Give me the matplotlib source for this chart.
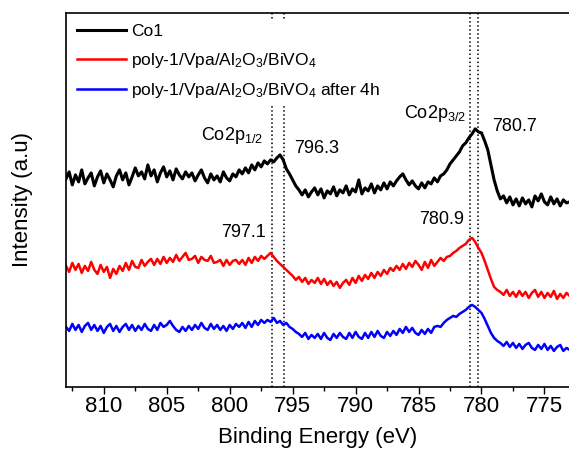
import numpy as np
import matplotlib
matplotlib.use('Agg')
import matplotlib.pyplot as plt
from matplotlib.ticker import MultipleLocator

plt.rcParams['font.family'] = ['Liberation Sans', 'DejaVu Sans']
plt.rcParams['mathtext.fontset'] = 'custom'
plt.rcParams['mathtext.rm'] = 'Liberation Sans'
plt.rcParams['mathtext.it'] = 'Liberation Sans:italic'

# binding energy grid (eV), 0.25 eV step from 813 down to 773
energy = np.arange(813.0, 772.99, -0.25)

co1 = [
    208, 215, 202, 212, 205, 217, 203, 209,
    214, 201, 210, 216, 204, 213, 207, 200,
    211, 217, 207, 214, 202, 210, 219, 211,
    215, 208, 222, 211, 217, 205, 214, 220,
    210, 216, 207, 218, 212, 208, 215, 210,
    214, 206, 212, 217, 209, 204, 213, 207,
    211, 205, 215, 209, 206, 213, 210, 217,
    213, 219, 214, 222, 217, 224, 220, 226,
    223, 227, 225, 229, 232, 227, 218, 213,
    207, 201, 197, 192, 197, 190, 195, 199,
    192, 198, 189, 196, 193, 200, 191, 197,
    194, 201, 192, 198, 195, 207, 193, 199,
    196, 203, 194, 201, 197, 204, 198, 205,
    201, 206, 210, 213, 207, 202, 206, 201,
    198, 204, 199, 205, 203, 209, 205, 211,
    213, 217, 223, 227, 231, 235, 241, 244,
    249, 253, 258, 255, 254, 246, 237, 222,
    207, 196, 188, 191, 184, 190, 182, 188,
    181, 189, 183, 187, 180, 191, 186, 193,
    185, 182, 190, 183, 188, 181, 187, 184,
    185,
]

poly = [
    121, 115, 124, 117, 123, 114, 121, 116,
    125, 117, 113, 122, 115, 120, 109, 118,
    113, 121, 116, 124, 117, 126, 120, 119,
    127, 121, 125, 128, 122, 128, 123, 130,
    124, 129, 125, 132, 126, 130, 134, 127,
    128, 131, 124, 130, 127, 126, 131, 124,
    125, 127, 121, 127, 122, 126, 127, 123,
    127, 122, 129, 124, 130, 126, 131, 128,
    131, 134, 130, 126, 123, 120, 117, 114,
    111, 107, 110, 105, 109, 103, 107, 104,
    109, 103, 108, 102, 106, 101, 105, 99,
    104, 107, 102, 109, 104, 111, 106, 112,
    108, 114, 109, 115, 111, 117, 113, 119,
    116, 121, 117, 123, 118, 124, 120, 126,
    122, 117, 125, 119, 127, 121, 125, 129,
    126, 130, 131, 134, 136, 139, 141, 143,
    147, 149, 145, 139, 134, 126, 117, 108,
    100, 97, 95, 92, 97, 91, 95, 90,
    96, 91, 95, 89, 94, 97, 90, 95,
    89, 94, 90, 96, 88, 93, 89, 94,
    91,
]

poly_4h = [
    60, 56, 63, 57, 62, 55, 61, 64,
    57, 62, 56, 61, 54, 60, 63, 56,
    61, 55, 60, 63, 57, 62, 56, 61,
    57, 63, 58, 56, 62, 57, 64, 60,
    62, 66, 61, 57, 55, 60, 56, 61,
    57, 62, 58, 64, 59, 57, 63, 58,
    62, 57, 61, 56, 62, 58, 63, 60,
    64, 59, 65, 60, 66, 62, 67, 64,
    67, 65, 69, 64, 66, 62, 64, 60,
    58, 55, 53, 50, 54, 48, 52, 49,
    53, 48, 54, 49, 47, 53, 49, 54,
    50, 48, 54, 49, 55, 50, 48, 54,
    49, 55, 50, 56, 51, 49, 55, 51,
    56, 52, 58, 54, 60, 55, 59, 54,
    52, 57, 53, 58, 54, 60, 61, 60,
    64, 67, 69, 71, 70, 73, 75, 77,
    80, 82, 80, 77, 74, 68, 61, 54,
    49, 46, 44, 41, 45, 40, 44, 39,
    43, 38, 42, 44, 39, 37, 42, 38,
    43, 37, 41, 36, 40, 42, 36, 39,
    37,
]

series_labels = ['Co1',
                 r'poly-1/Vpa/Al$_2$O$_3$/BiVO$_4$',
                 r'poly-1/Vpa/Al$_2$O$_3$/BiVO$_4$ after 4h']

peak_lines = [796.6, 795.65, 780.92, 780.25]

fig = plt.figure(figsize=(5.69, 4.59), dpi=100)
ax = fig.add_axes([0.116, 0.157, 0.884, 0.815])

ax.plot(energy, co1, color='black', lw=2.2, label=series_labels[0])
ax.plot(energy, poly, color='red', lw=1.8, label=series_labels[1])
ax.plot(energy, poly_4h, color='blue', lw=1.8, label=series_labels[2])

for e in peak_lines:
    ax.axvline(e, color='black', ls=':', lw=1.1, zorder=1)

ax.set_xlim(813.0, 773.05)
ax.set_ylim(0, 374)

ax.xaxis.set_major_locator(MultipleLocator(5))
ax.xaxis.set_minor_locator(MultipleLocator(2.5))
ax.tick_params(axis='x', which='major', direction='out', length=5, width=1,
               labelsize=16, pad=1.5)
ax.tick_params(axis='x', which='minor', direction='out', length=3, width=1)
ax.set_yticks([])
ax.spines['right'].set_visible(False)
for s in ['left', 'top', 'bottom']:
    ax.spines[s].set_linewidth(1.2)

ax.set_xlabel('Binding Energy (eV)', fontsize=16, va='center')
ax.xaxis.set_label_coords(0.5, -0.136)
ax.set_ylabel('Intensity (a.u)', fontsize=16)
ax.yaxis.set_label_coords(-0.066, 0.5)

ax.text(802.25, 247, r'Co2p$_{1/2}$', fontsize=13, va='baseline')
ax.text(794.87, 238, '796.3', fontsize=13, va='center')
ax.text(786.13, 269, r'Co2p$_{3/2}$', fontsize=13, va='baseline')
ax.text(779.15, 260, '780.7', fontsize=13, va='center')
ax.text(800.67, 154, '797.1', fontsize=13, va='center')
ax.text(784.94, 167, '780.9', fontsize=13, va='center')

leg = ax.legend(loc='upper left', bbox_to_anchor=(0.0, 1.0), fontsize=12.5,
                frameon=True, fancybox=False, facecolor='white',
                edgecolor='none', framealpha=1, handlelength=2.8,
                handletextpad=0.3, labelspacing=0.66, borderpad=0.3,
                borderaxespad=0.35)
leg.set_zorder(5)

fig.savefig('out.png', dpi=100)
